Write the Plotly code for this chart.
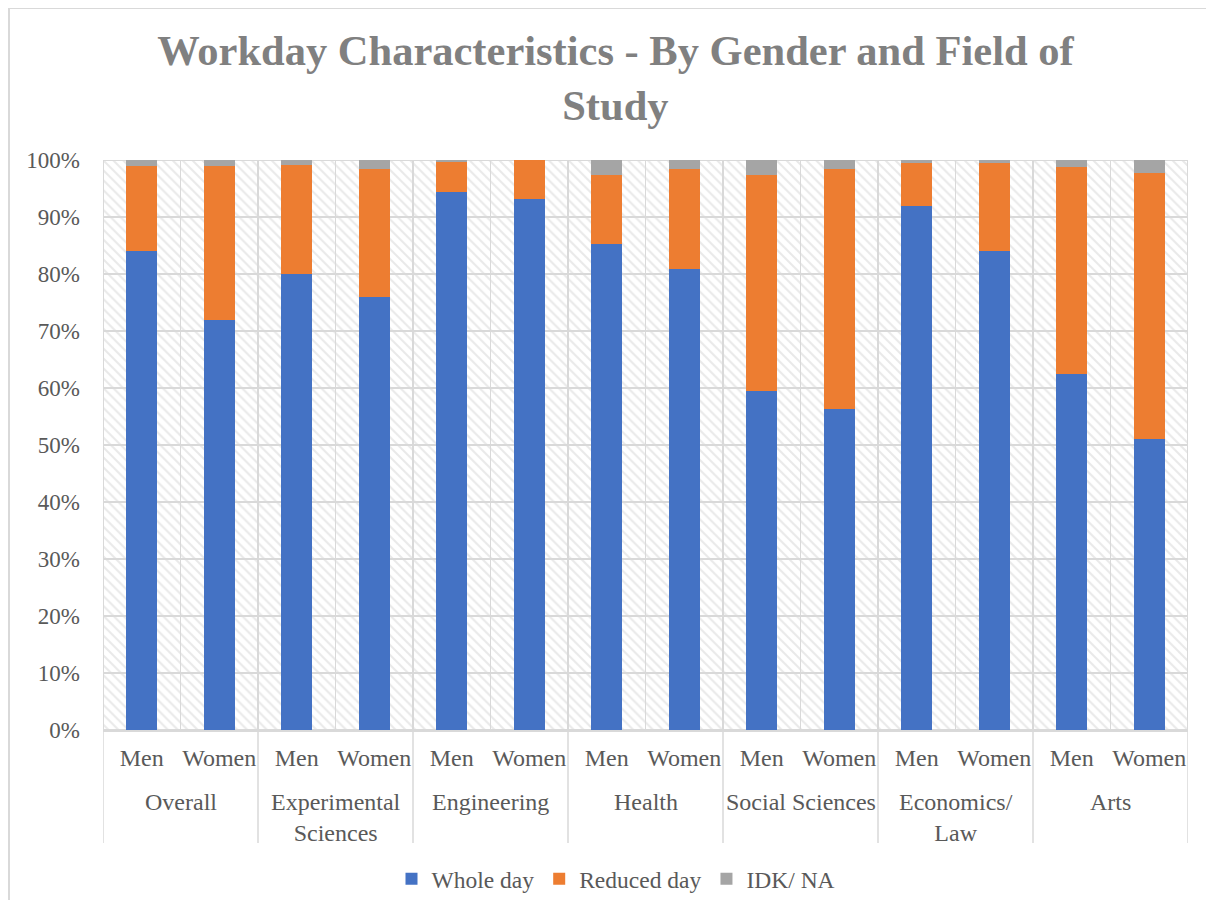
import plotly.graph_objects as go

fields = ["Overall", "Experimental<br>Sciences", "Engineering", "Health",
          "Social Sciences", "Economics/<br>Law", "Arts"]
genders = ["Men", "Women"]

whole_day = [84.0, 72.0, 80.0, 76.0, 94.3, 93.2, 85.3, 80.9, 59.4, 56.4, 91.9, 84.1, 62.5, 51.1]
reduced_day = [15.0, 27.0, 19.1, 22.5, 5.5, 6.8, 12.1, 17.6, 38.0, 42.1, 7.5, 15.4, 36.3, 46.7]
idk_na = [1.0, 1.0, 0.9, 1.5, 0.2, 0.0, 2.6, 1.5, 2.6, 1.5, 0.6, 0.5, 1.2, 2.2]

grid_step = 10  # percent per horizontal gridline band
y_ticks = list(range(0, 101, 10))

n_g = len(genders)
cat_labels = [g for _ in fields for g in genders]
n = len(cat_labels)
pos = list(range(n))

font_family = "Liberation Serif, Times New Roman, serif"
text_color = "#595959"
grid_color = "#d9d9d9"

W, H = 1198, 892
ML, MR, MT, MB = 95, 18, 152, 170
plot_w = W - ML - MR
plot_h = H - MT - MB


def py(px):  # figure pixel y -> paper y
    return (H - MB - px) / plot_h


def pxr(px):  # figure pixel x -> paper x
    return (px - ML) / plot_w


fig = go.Figure()

# Hatched plot background with gridlines (stacked bands on hidden axes)
for band in range(100 // grid_step):
    fig.add_trace(go.Bar(
        x=pos, y=[grid_step / 100] * n, width=1,
        marker=dict(color="white",
                    line=dict(color=grid_color, width=1.5),
                    pattern=dict(shape="\\", fgcolor="#d4d4d4", bgcolor="white",
                                 size=7, solidity=0.3)),
        showlegend=False, hoverinfo="skip",
        xaxis="x", yaxis="y",
    ))

series = [("Whole day", whole_day, "#4472c4"),
          ("Reduced day", reduced_day, "#ed7d31"),
          ("IDK/ NA", idk_na, "#a5a5a5")]
for name, vals, col in series:
    fig.add_trace(go.Bar(
        name=name, x=pos, y=[v / 100 for v in vals],
        marker=dict(color=col, line=dict(width=0)), width=0.4,
        xaxis="x2", yaxis="y2",
    ))

annotations = []
shapes = []
for i, f in enumerate(fields):
    annotations.append(dict(
        text=f, x=i * n_g + (n_g - 1) / 2, xref="x2", y=py(779), yref="paper",
        xanchor="center", yanchor="top", showarrow=False,
        font=dict(family=font_family, size=24, color=text_color)))
for k in range(len(fields) + 1):
    xb = k * n_g - 0.5
    shapes.append(dict(type="line", xref="x2", yref="paper", x0=xb, x1=xb,
                       y0=0, y1=py(835), line=dict(color=grid_color, width=1.5)))

shapes.append(dict(type="rect", xref="paper", yref="paper",
                   x0=pxr(1), x1=pxr(W + 20),
                   y0=py(H + 20), y1=py(0),
                   line=dict(color=grid_color, width=2), fillcolor="rgba(0,0,0,0)",
                   layer="below"))

fig.update_layout(
    width=W, height=H,
    barmode="stack",
    paper_bgcolor="white", plot_bgcolor="white",
    margin=dict(l=ML, r=MR, t=MT, b=MB, autoexpand=False),
    font=dict(family=font_family, color=text_color, size=23),
    title=dict(text="<b>Workday Characteristics - By Gender and Field of<br>Study</b>",
               x=0.507, xanchor="center", yref="container", y=1 - 57 / H, yanchor="middle",
               font=dict(family=font_family, size=42.5, color="#808080")),
    xaxis=dict(visible=False, range=[-0.5, n - 0.5], fixedrange=True),
    yaxis=dict(range=[0, 1], tickvals=[t / 100 for t in y_ticks],
               ticktext=[f"{t}%" for t in y_ticks], showgrid=False,
               zeroline=False, ticks="", ticklabelstandoff=22,
               tickfont=dict(family=font_family, size=23, color=text_color)),
    xaxis2=dict(overlaying="x", side="bottom", anchor="y2",
                range=[-0.5, n - 0.5], showgrid=False, showline=True,
                linecolor=grid_color, linewidth=1.5, zeroline=False,
                tickvals=pos, ticktext=cat_labels, ticks="", ticklabelstandoff=5,
                tickfont=dict(family=font_family, size=24, color=text_color)),
    yaxis2=dict(overlaying="y", range=[0, 1], visible=False),
    legend=dict(orientation="h", x=pxr(608), xanchor="center", y=py(871), yanchor="middle",
                font=dict(family=font_family, size=23.5, color=text_color),
                traceorder="normal", itemwidth=30),
    annotations=annotations,
    shapes=shapes,
)

fig.write_html("out.html")
